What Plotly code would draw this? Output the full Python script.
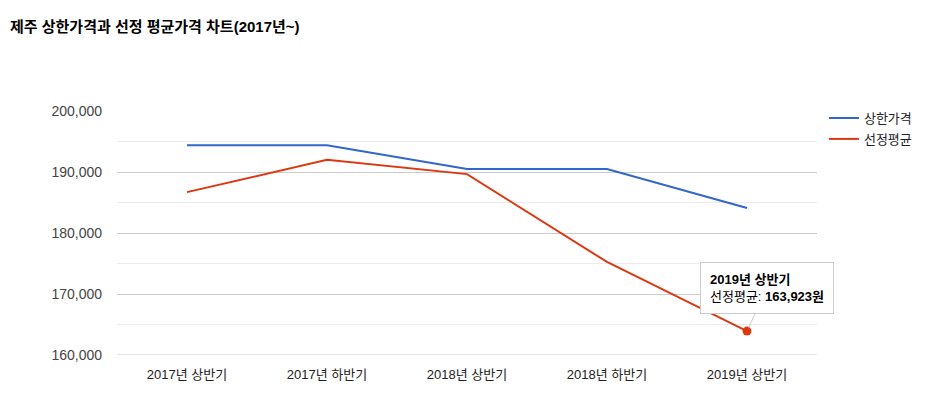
import plotly.graph_objects as go

categories = ["2017년 상반기", "2017년 하반기", "2018년 상반기", "2018년 하반기", "2019년 상반기"]
upper_price = [194400, 194400, 190500, 190500, 184100]
selected_avg = [186700, 192000, 189650, 175250, 163923]
y_ticks = [160000, 170000, 180000, 190000, 200000]
y_tick_labels = ["160,000", "170,000", "180,000", "190,000", "200,000"]

FONT = "Liberation Sans, Arial, Noto Sans CJK KR, sans-serif"
BLUE = "#3366cc"
RED = "#dc3912"

# page body has an 8px margin; figure coordinates below compensate for it
W, H = 921, 386
L, R, T, B = 109, 107, 103, 37
PW, PH = W - L - R, H - T - B

fig = go.Figure()
fig.add_trace(go.Scatter(
    x=categories, y=upper_price, name="상한가격", mode="lines",
    line=dict(color=BLUE, width=2), legendgroup="a", hoverinfo="skip"))
fig.add_trace(go.Scatter(
    x=categories, y=selected_avg, name="선정평균", mode="lines",
    line=dict(color=RED, width=2), legendgroup="b", hoverinfo="skip"))
# highlighted point
fig.add_trace(go.Scatter(
    x=[categories[-1]], y=[selected_avg[-1]], mode="markers",
    marker=dict(color=RED, size=9), showlegend=False, hoverinfo="skip"))

# baseline at the bottom of the value axis
fig.add_shape(type="line", xref="paper", x0=0, x1=1, yref="y",
              y0=y_ticks[0], y1=y_ticks[0], line=dict(color="#cccccc", width=1))

fig.add_annotation(
    x=categories[-1], y=selected_avg[-1], xref="x", yref="y",
    text=f"<b>{categories[-1]}</b><br>선정평균: <b>{selected_avg[-1]:,}원</b>",
    showarrow=True, arrowhead=0, arrowwidth=1, arrowcolor="#cccccc",
    ax=20, ay=-43, standoff=4,
    bgcolor="white", bordercolor="#cccccc", borderwidth=1, borderpad=9,
    align="left", font=dict(family=FONT, size=13, color="#000000"))

fig.update_layout(
    width=W, height=H,
    margin=dict(l=L, r=R, t=T, b=B),
    paper_bgcolor="white", plot_bgcolor="white",
    title=dict(text="<b>제주 상한가격과 선정 평균가격 차트(2017년~)</b>",
               x=2/W, xanchor="left", xref="container",
               y=1-19/H, yanchor="middle", yref="container",
               font=dict(family=FONT, size=15, color="#000000")),
    legend=dict(x=(829-117)/PW, xanchor="left", y=(349-95)/PH, yanchor="top",
                xref="paper", yref="paper", traceorder="grouped", tracegroupgap=1,
                font=dict(family=FONT, size=13, color="#222222"),
                bgcolor="rgba(0,0,0,0)"),
    xaxis=dict(type="category", range=[-0.5, 4.5], showgrid=False, zeroline=False,
               showline=False, ticks="", ticklabelstandoff=10,
               tickfont=dict(family=FONT, size=13, color="#222222")),
    yaxis=dict(range=[160000, 200000], tickvals=y_ticks, ticktext=y_tick_labels,
               showgrid=True, gridcolor="#cccccc", gridwidth=1, zeroline=False,
               showline=False, ticks="", ticklabelstandoff=14,
               minor=dict(dtick=5000, tick0=160000, showgrid=True, gridcolor="#ebebeb", ticks=""),
               tickfont=dict(family=FONT, size=14, color="#444444")),
    hovermode=False,
)

fig.write_html("out.html")
